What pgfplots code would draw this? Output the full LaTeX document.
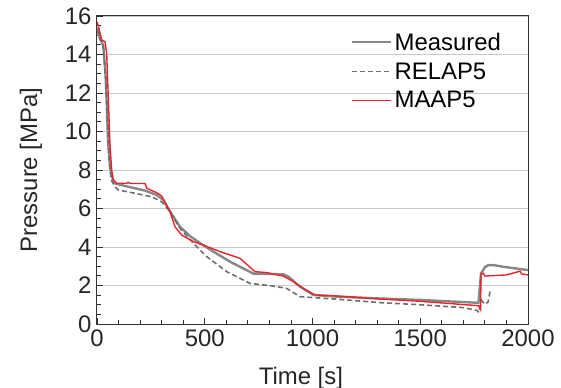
\documentclass[border=0pt]{standalone}
\usepackage{fontspec}
\setmainfont{Liberation Sans}
\usepackage{pgfplots}
\pgfplotsset{compat=1.18}
\definecolor{meas}{RGB}{135,135,135}
\definecolor{relap}{RGB}{110,110,110}
\definecolor{maap}{RGB}{235,35,45}
\definecolor{gridc}{RGB}{200,200,200}
\definecolor{framec}{RGB}{50,50,50}
\begin{document}
\begin{tikzpicture}
\begin{axis}[
  scale only axis, width=431bp, height=308bp,
  xmin=0, xmax=2000, ymin=0, ymax=16,
  xtick={0,500,1000,1500,2000}, ytick={0,2,4,6,8,10,12,14,16},
  minor x tick num=4, minor y tick num=3,
  tick pos=left, tick align=inside,
  major tick length=6bp, minor tick length=4bp,
  every tick/.style={framec, line width=0.9bp},
  axis line style={framec, line width=1bp},
  ymajorgrids, major grid style={gridc, line width=0.9bp},
  /pgf/number format/assume math mode=true,
  /pgf/number format/set thousands separator={},
  tick label style={font=\fontsize{24}{28}\selectfont, text=black!85},
  yticklabel style={xshift=-2bp},
  xticklabel style={yshift=-2bp},
  xlabel={Time [s]}, ylabel={Pressure [MPa]},
  xlabel style={at={(axis description cs:0.473,-0.195)}, anchor=base, font=\fontsize{24}{28}\selectfont, text=black!85},
  ylabel style={at={(axis description cs:-0.153,0.5)}, anchor=center, rotate=0, font=\fontsize{24}{28}\selectfont, text=black!85},
  legend style={draw=none, fill=none, at={(axis description cs:0.587,0.956)}, anchor=north west,
    font=\fontsize{24}{27}\selectfont, row sep=7bp, inner sep=1bp},
  legend cell align=left,
  legend image code/.code={\draw[#1] (0bp,0bp) -- (33bp,0bp); \path (0bp,0bp) -- (39bp,0bp);},
]
\addplot[meas, line width=2.4bp] coordinates {
(0,15.4) (8,15.1) (14,14.8) (29,14.5) (40,12.9) (52,9.4) (60,8.2) (68,7.7) (76,7.45) (84,7.3)
(145,7.13) (223,6.93) (277,6.70) (308,6.44) (331,5.98) (385,5.05) (431,4.57) (486,4.14) (540,3.76)
(617,3.24) (725,2.62) (800,2.60) (865,2.58) (888,2.46) (942,1.94) (1004,1.51) (1100,1.43) (1300,1.33)
(1500,1.25) (1770,1.10) (1782,2.63) (1800,2.95) (1816,3.06) (1839,3.06) (1900,2.95) (2000,2.80)};
\addlegendentry{Measured}
\addplot[relap, line width=1.6bp, dash pattern=on 5bp off 3bp] coordinates {
(0,15.3) (10,14.9) (20,14.7) (30,14.3) (42,12.5) (55,9.0) (65,7.5) (84,7.13) (99,6.96) (176,6.79)
(254,6.61) (300,6.35) (331,5.95) (385,4.97) (455,4.10) (509,3.50) (602,2.72) (710,2.11) (818,1.97)
(880,1.85) (942,1.42) (1004,1.37) (1100,1.30) (1313,1.11) (1500,1.00) (1700,0.85) (1765,0.70)
(1772,0.60) (1785,1.22) (1800,1.02) (1815,1.15) (1825,1.75)};
\addlegendentry{RELAP5}
\addplot[maap, line width=1.4bp] coordinates {
(0,15.7) (6,15.5) (22,14.75) (37,14.67) (45,14.06) (60,9.39) (68,8.0) (76,7.48) (91,7.31) (138,7.31)
(145,7.36) (155,7.30) (223,7.30) (231,7.05) (277,6.82) (300,6.65) (323,6.18) (339,5.83) (362,5.05)
(393,4.62) (447,4.28) (493,4.10) (571,3.76) (664,3.41) (733,2.72) (787,2.67) (865,2.49) (911,2.20)
(958,1.85) (1012,1.51) (1096,1.47) (1313,1.30) (1500,1.18) (1770,0.95) (1780,0.75) (1782,2.60)
(1793,2.63) (1800,2.49) (1901,2.55) (1955,2.72) (1963,2.75) (1970,2.60) (2000,2.55)};
\addlegendentry{MAAP5}
\coordinate (SW) at (rel axis cs:0,0);
\coordinate (NE) at (rel axis cs:1,1);
\end{axis}
\pgfresetboundingbox
\path ([shift={(-97bp,-64bp)}]SW) rectangle ([shift={(33bp,16bp)}]NE);
\end{tikzpicture}
\end{document}
